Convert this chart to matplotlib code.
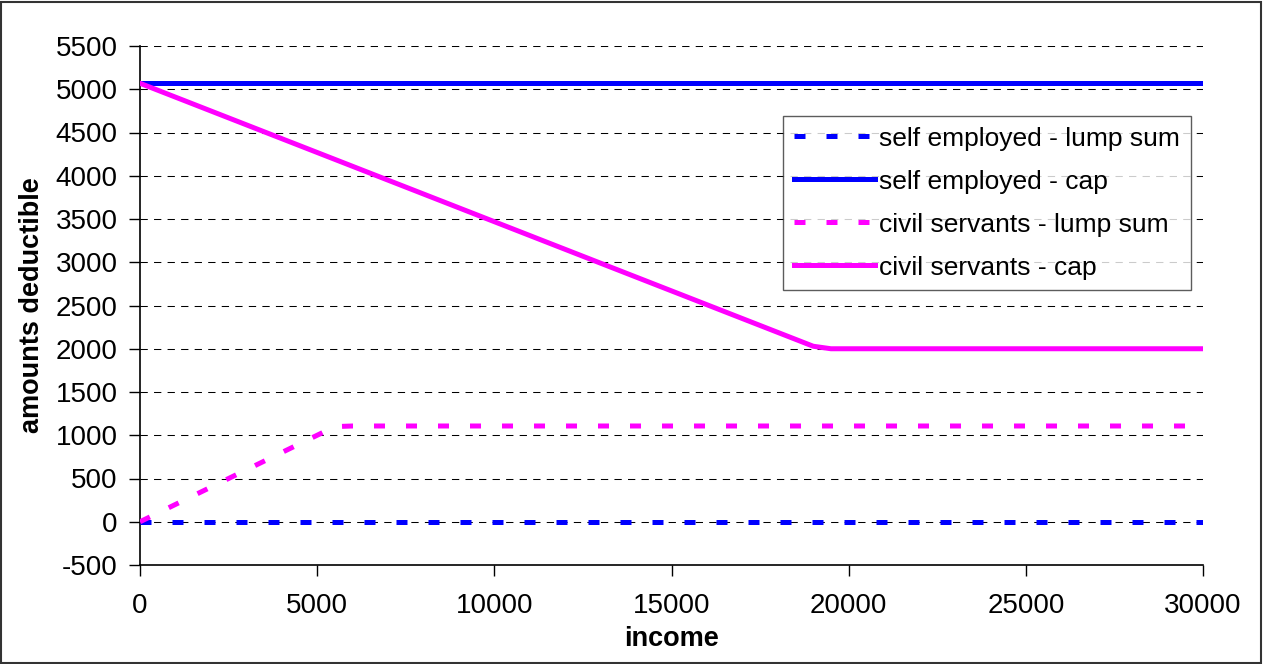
import numpy as np
import matplotlib
matplotlib.use("Agg")
import matplotlib.pyplot as plt
from matplotlib.patches import Rectangle

plt.rcParams['font.family'] = ['Liberation Sans', 'DejaVu Sans']
plt.rcParams['axes.unicode_minus'] = False

# data
selfLumpX = [0, 30000]
selfLumpY = [0, 0]
selfCapX = [0, 30000]
selfCapY = [5069, 5069]
civilLumpX = [0, 5500, 6000, 30000]
civilLumpY = [0, 1100, 1107, 1107]
civilCapX = [0, 19000, 19500, 30000]
civilCapY = [5069, 2029, 2000, 2000]

labels = ['self employed - lump sum', 'self employed - cap',
          'civil servants - lump sum', 'civil servants - cap']

fig = plt.figure(figsize=(12.63, 6.64), dpi=100)
ax = fig.add_axes([140/1263, 99/664, 1063/1263, 519/664])

dash = (0, (2.2, 4.2))
ax.plot(selfLumpX, selfLumpY, color='#0000ff', lw=3.6, linestyle=dash, dash_capstyle='butt', label=labels[0], zorder=3)
ax.plot(selfCapX, selfCapY, color='#0000ff', lw=3.6, label=labels[1], zorder=3)
ax.plot(civilLumpX, civilLumpY, color='#ff00ff', lw=3.6, linestyle=dash, dash_capstyle='butt', label=labels[2], zorder=3)
ax.plot(civilCapX, civilCapY, color='#ff00ff', lw=3.6, label=labels[3], zorder=3)

ax.set_xlim(0, 30000)
ax.set_ylim(-500, 5500)
ax.set_xticks(np.arange(0, 30001, 5000))
ax.set_yticks(np.arange(-500, 5501, 500))
ax.tick_params(direction='out', length=8, width=1, labelsize=20)
ax.tick_params(axis='x', pad=12)
ax.tick_params(axis='y', pad=8)
for y in np.arange(0, 5501, 500):
    ax.axhline(y, color='black', lw=0.75, linestyle=(0, (7, 6)), zorder=1)

ax.spines['top'].set_visible(False)
ax.spines['right'].set_visible(False)
ax.spines['left'].set_linewidth(1.2)
ax.spines['bottom'].set_linewidth(1.2)

ax.set_xlabel('income', fontsize=19.5, fontweight='bold', labelpad=5)
ax.set_ylabel('amounts deductible', fontsize=19.5, fontweight='bold', labelpad=8)

leg = ax.legend(loc='upper left', bbox_to_anchor=((783-140)/1063, (565-116)/519),
                fontsize=19, frameon=True, fancybox=False, handlelength=3.1,
                handletextpad=0.15, labelspacing=0.72, borderpad=0.4, borderaxespad=0)
leg.get_frame().set_edgecolor('#333333')
leg.get_frame().set_linewidth(1.0)

fig.patches.append(Rectangle((1/1263, 1/664), 1260/1263, 661/664, transform=fig.transFigure,
                             fill=False, edgecolor='#333333', lw=1.5))

fig.savefig('out.png', dpi=100)
